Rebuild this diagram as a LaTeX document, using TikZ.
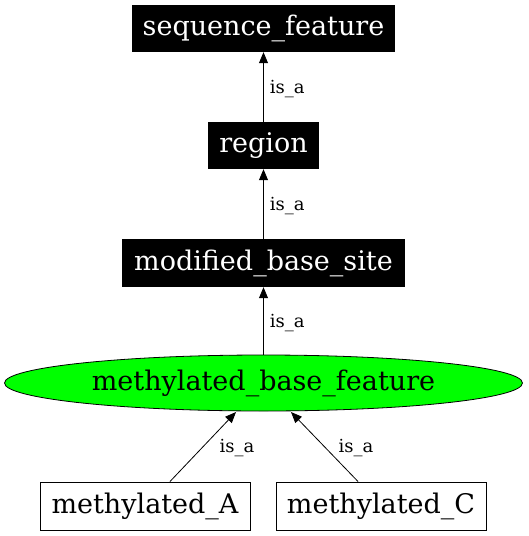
\documentclass[tikz,border=0pt]{standalone}
\usepackage{fontspec}
\setmainfont{DejaVu Serif}
\usetikzlibrary{arrows.meta,shapes.geometric}
\begin{document}
\begin{tikzpicture}[x=1pt,y=-1pt,
  blk/.style={fill=black,text=white,inner sep=0pt,font=\fontsize{27}{32}\selectfont},
  wbox/.style={draw=black,fill=white,inner sep=0pt,line width=1pt,font=\fontsize{27}{32}\selectfont},
  ell/.style={draw=black,fill=green,ellipse,inner sep=0pt,line width=0.8pt,font=\fontsize{27}{32}\selectfont},
  edge/.style={-{Triangle[length=11pt,width=9pt]},line width=0.8pt},
  lbl/.style={font=\fontsize{18}{21}\selectfont,inner sep=0pt}]
\useasboundingbox (0,0) rectangle (528,536);
\node[blk,minimum width=263pt,minimum height=47pt] (sf) at (263.5,28.5) {sequence\_feature};
\node[blk,minimum width=111pt,minimum height=47pt] (rg) at (263.5,145.5) {region};
\node[blk,minimum width=283pt,minimum height=48pt] (mb) at (263.5,263) {modified\_base\_site};
\node[ell,minimum width=518pt,minimum height=56pt] (mf) at (263.5,383) {methylated\_base\_feature};
\node[wbox,minimum width=210pt,minimum height=48pt] (ma) at (145,506) {methylated\_A};
\node[wbox,minimum width=210pt,minimum height=48pt] (mc) at (381,506) {methylated\_C};
\draw[edge] (rg) -- node[lbl,right=6pt,yshift=-2pt] {is\_a} (sf);
\draw[edge] (mb) -- node[lbl,right=6pt,yshift=-2pt] {is\_a} (rg);
\draw[edge] (mf.north) -- node[lbl,right=6pt,yshift=-2pt] {is\_a} (mb);
\coordinate (ta) at (236,412);
\coordinate (tc) at (291,412);
\draw[edge] (ma.north -| 170,0) -- (ta);
\draw[edge] (mc.north -| 358,0) -- (tc);
\node[lbl] (la) at (237,448) {is\_a};
\node[lbl] (lc) at (356,448) {is\_a};
\end{tikzpicture}
\end{document}
